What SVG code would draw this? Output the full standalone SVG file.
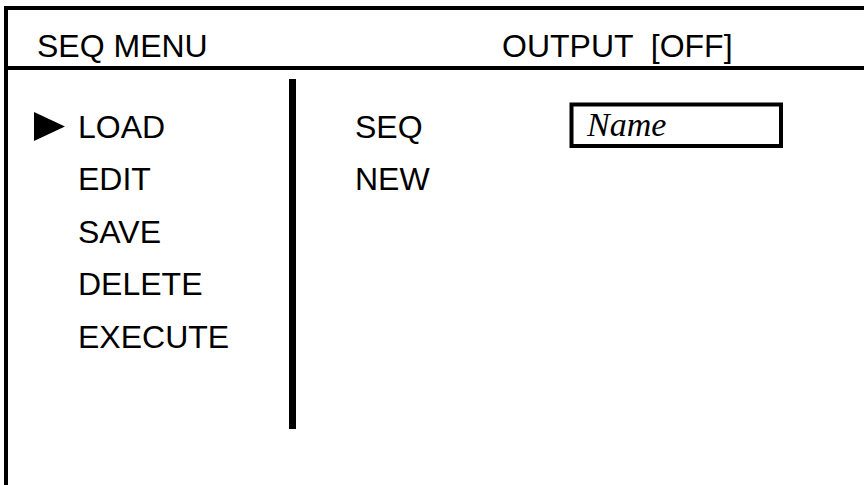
<svg xmlns="http://www.w3.org/2000/svg" width="864" height="485" viewBox="0 0 864 485">
<style>
.t{font-family:"Liberation Sans",Arial,sans-serif;font-size:32px;fill:#000}
.h{font-family:"Liberation Sans",Arial,sans-serif;font-size:32px;fill:#000;white-space:pre}
.n{font-family:"Liberation Serif","Times New Roman",serif;font-style:italic;font-size:34px;fill:#000}
.ln{stroke:#000;fill:none}
</style>
<rect width="864" height="485" fill="#fff"/>
<g id="frame">
<polyline class="ln" stroke-width="4" points="6,485 6,8 866,8"/>
<line class="ln" stroke-width="4" x1="6" y1="68" x2="866" y2="68"/>
<line class="ln" stroke-width="7" x1="292.5" y1="79" x2="292.5" y2="429"/>
</g>
<g id="header">
<text class="h" x="37" y="57">SEQ MENU</text>
<text class="h" x="502" y="57" xml:space="preserve">OUTPUT  [OFF]</text>
</g>
<g id="menu">
<polygon points="34,112 65,126.5 34,141" fill="#000"/>
<text class="t" x="78" y="138">LOAD</text>
<text class="t" x="78" y="190">EDIT</text>
<text class="t" x="78" y="243">SAVE</text>
<text class="t" x="78" y="295">DELETE</text>
<text class="t" x="78" y="348">EXECUTE</text>
</g>
<g id="sub">
<text class="t" x="355" y="138">SEQ</text>
<text class="t" x="355" y="190">NEW</text>
</g>
<g id="namebox">
<rect class="ln" stroke-width="4" x="571.5" y="104.5" width="209.5" height="41.5"/>
<text class="n" x="587" y="136">Name</text>
</g>
</svg>
